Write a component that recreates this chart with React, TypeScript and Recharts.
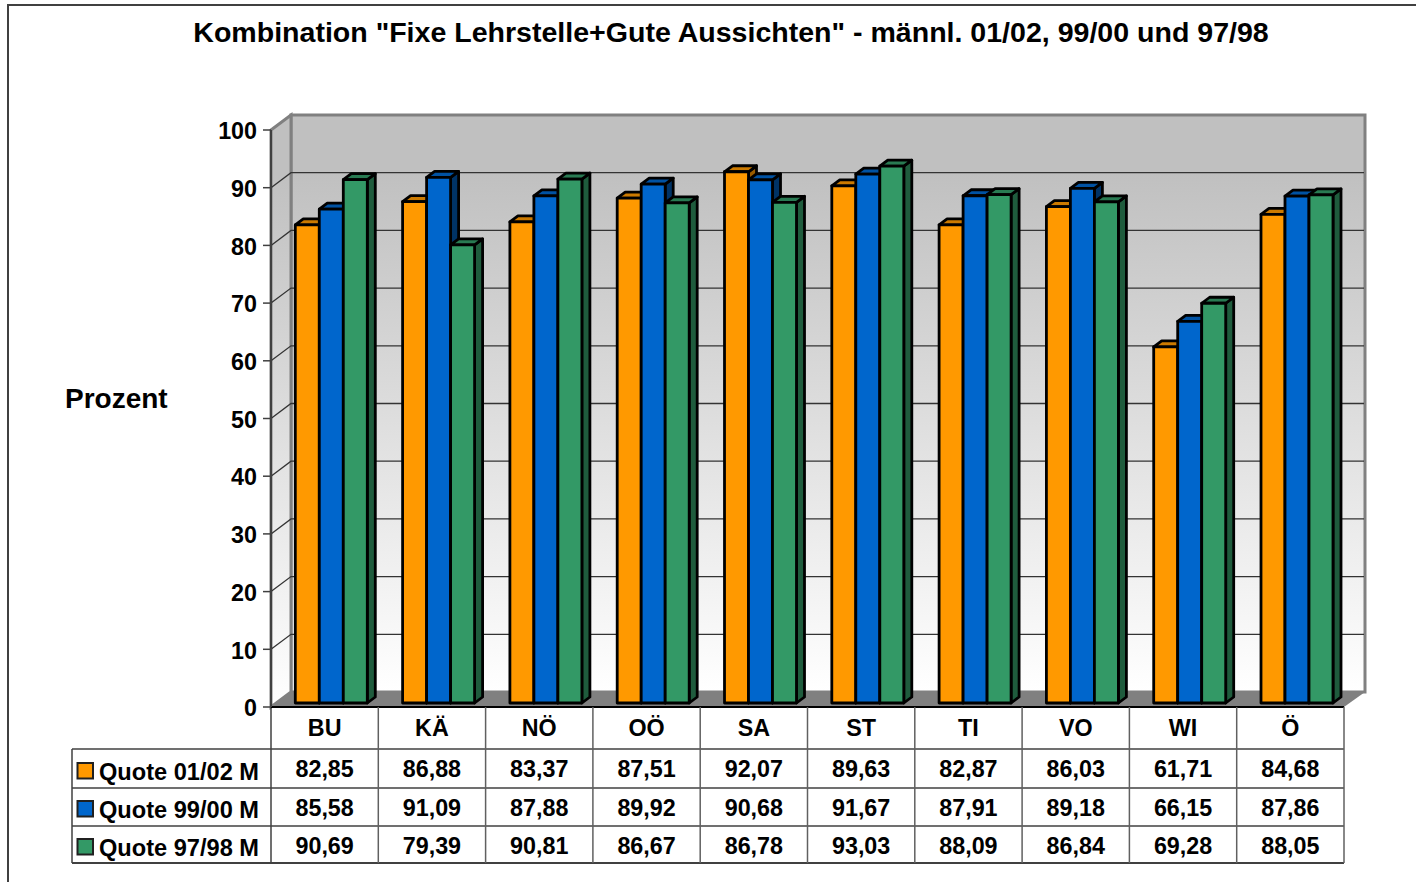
import { BarChart, Bar, XAxis, YAxis, CartesianGrid } from "recharts";

const regions = ["BU", "KÄ", "NÖ", "OÖ", "SA", "ST", "TI", "VO", "WI", "Ö"];
const quote0102 = [82.85, 86.88, 83.37, 87.51, 92.07, 89.63, 82.87, 86.03, 61.71, 84.68];
const quote9900 = [85.58, 91.09, 87.88, 89.92, 90.68, 91.67, 87.91, 89.18, 66.15, 87.86];
const quote9798 = [90.69, 79.39, 90.81, 86.67, 86.78, 93.03, 88.09, 86.84, 69.28, 88.05];
const yTicks = [0, 10, 20, 30, 40, 50, 60, 70, 80, 90, 100];
const gridValues = [10, 20, 30, 40, 50, 60, 70, 80, 90];

const seriesNames = ["Quote 01/02 M", "Quote 99/00 M", "Quote 97/98 M"];
const seriesKeys = ["q0102", "q9900", "q9798"];
const seriesValues = [quote0102, quote9900, quote9798];
const seriesColors = ["#FF9900", "#0066CC", "#339966"];
const topColors = ["#CC7A00", "#0052A3", "#297A52"];
const sideColors = ["#995C00", "#003366", "#1F5C3D"];

const chartData = regions.map((region, i) => ({
  region,
  q0102: quote0102[i],
  q9900: quote9900[i],
  q9798: quote9798[i],
}));

const FONT = "'Liberation Sans', Arial, sans-serif";
const LEFT = 271;
const RIGHT = 1344;
const TOP = 130;
const BOTTOM = 707;
const WALL_X = 20;
const WALL_Y = 15;
const BAR_SHIFT_X = 6.3;
const BAR_SHIFT_Y = 4;
const DEPTH_X = 8;
const DEPTH_Y = 6;
const RULE_Y = [749, 788, 826, 863];
const VALUE_Y = [777, 816, 854];
const LABEL_Y = [780, 818, 856];
const COL = (RIGHT - LEFT) / regions.length;
const layer = { position: "absolute", left: 0, top: 0 } as const;

const fmt = (v: number) => v.toFixed(2).replace(".", ",");

const bar3d = (series: number) => (props: any) => {
  const x = props.x + BAR_SHIFT_X;
  const y = props.y - BAR_SHIFT_Y;
  const { width: w, height: h } = props;
  return (
    <g stroke="#000" strokeWidth={2.8} strokeLinejoin="round">
      <polygon
        points={`${x + w},${y} ${x + w + DEPTH_X},${y - DEPTH_Y} ${x + w + DEPTH_X},${y + h - DEPTH_Y} ${x + w},${y + h}`}
        fill={sideColors[series]}
      />
      <polygon
        points={`${x},${y} ${x + DEPTH_X},${y - DEPTH_Y} ${x + w + DEPTH_X},${y - DEPTH_Y} ${x + w},${y}`}
        fill={topColors[series]}
      />
      <rect x={x} y={y} width={w} height={h} fill={seriesColors[series]} />
    </g>
  );
};

// back wall line plus the slanted piece on the side wall
const gridLine = (props: any) => {
  const { x1, y1 } = props;
  return (
    <polyline
      key={props.key}
      points={`${x1},${y1} ${x1 + WALL_X},${y1 - WALL_Y} ${RIGHT + WALL_X},${y1 - WALL_Y}`}
      stroke="#333333"
      strokeWidth={1.3}
      fill="none"
    />
  );
};

// the category tick also carries its column of the data table
const TableTick = (props: any) => {
  const { x, payload, index } = props;
  return (
    <g fontFamily={FONT} fontWeight="bold" fontSize={23.3} fill="#000" textAnchor="middle">
      <text x={x} y={736}>{payload.value}</text>
      {seriesValues.map((values, s) => (
        <text key={s} x={x} y={VALUE_Y[s]}>{fmt(values[index])}</text>
      ))}
      <line x1={x + COL / 2} x2={x + COL / 2} y1={BOTTOM} y2={RULE_Y[3]} stroke="#606060" strokeWidth={1.5} />
    </g>
  );
};

// frame and the walls of the 3D box, behind the chart
const Backdrop = () => (
  <svg width={1416} height={882} style={layer}>
    <defs>
      <linearGradient id="wall" x1="0" y1="0" x2="0" y2="1">
        <stop offset="0" stopColor="#C0C0C0" />
        <stop offset="0.1" stopColor="#C0C0C0" />
        <stop offset="1" stopColor="#FFFFFF" />
      </linearGradient>
    </defs>
    <polyline points="8,882 8,5 1416,5" fill="none" stroke="#404040" strokeWidth={2} />
    <polygon
      points={`${LEFT + WALL_X},${TOP - WALL_Y} ${RIGHT + WALL_X + 1},${TOP - WALL_Y} ${RIGHT + WALL_X + 1},${BOTTOM - WALL_Y} ${LEFT + WALL_X},${BOTTOM - WALL_Y}`}
      fill="url(#wall)"
      stroke="#808080"
      strokeWidth={3}
    />
    <polygon
      points={`${LEFT},${TOP} ${LEFT + WALL_X},${TOP - WALL_Y} ${LEFT + WALL_X},${BOTTOM - WALL_Y} ${LEFT},${BOTTOM}`}
      fill="url(#wall)"
      stroke="#808080"
      strokeWidth={3}
    />
    <polygon
      points={`${LEFT},${BOTTOM} ${LEFT + WALL_X},${BOTTOM - WALL_Y} ${RIGHT + WALL_X + 1},${BOTTOM - WALL_Y} ${RIGHT},${BOTTOM}`}
      fill="#808080"
    />
  </svg>
);

export default function App() {
  return (
    <div style={{ ...layer, width: 1416, height: 882, background: "#fff" }}>
      <Backdrop />
      <div style={layer}>
        <BarChart
          width={1416}
          height={882}
          data={chartData}
          margin={{ top: TOP, right: 1416 - RIGHT, bottom: 0, left: 0 }}
          barSize={24}
          barGap={0}
        >
          <CartesianGrid vertical={false} horizontal={gridLine} horizontalValues={gridValues} />

          <XAxis
            dataKey="region"
            height={882 - BOTTOM}
            interval={0}
            tickLine={false}
            axisLine={{ stroke: "#000", strokeWidth: 2 }}
            tick={<TableTick />}
          />
          <YAxis
            width={LEFT}
            domain={[0, 100]}
            ticks={yTicks}
            interval={0}
            tickSize={8}
            tickMargin={6}
            axisLine={{ stroke: "#404040", strokeWidth: 2 }}
            tickLine={{ stroke: "#404040", strokeWidth: 1.5 }}
            tick={{ fill: "#000", fontFamily: FONT, fontWeight: "bold", fontSize: 23.3, dy: 1 }}
          />

          {seriesKeys.map((key, s) => (
            <Bar key={key} dataKey={key} name={seriesNames[s]} isAnimationActive={false} shape={bar3d(s)} />
          ))}

          <text x={731} y={42} textAnchor="middle" fontFamily={FONT} fontWeight="bold" fontSize={28.56} fill="#000">
            Kombination "Fixe Lehrstelle+Gute Aussichten" - männl. 01/02, 99/00 und 97/98
          </text>
          <text x={65} y={408} fontFamily={FONT} fontWeight="bold" fontSize={28} fill="#000">
            Prozent
          </text>

          <g stroke="#404040" strokeWidth={1.5}>
            {RULE_Y.map((y, i) => (
              <line key={y} x1={72} x2={RIGHT} y1={y} y2={y} stroke={i === 3 ? "#000" : "#404040"} />
            ))}
            <line x1={72} x2={72} y1={RULE_Y[0]} y2={RULE_Y[3]} />
            <line x1={LEFT} x2={LEFT} y1={BOTTOM} y2={RULE_Y[3]} />
          </g>
          {seriesNames.map((name, s) => (
            <g key={name}>
              <rect x={77.5} y={LABEL_Y[s] - 17} width={15.5} height={15.5} fill={seriesColors[s]} stroke="#202020" strokeWidth={2} />
              <text x={99} y={LABEL_Y[s]} fontFamily={FONT} fontWeight="bold" fontSize={23.6} fill="#000">
                {name}
              </text>
            </g>
          ))}
        </BarChart>
      </div>
    </div>
  );
}
